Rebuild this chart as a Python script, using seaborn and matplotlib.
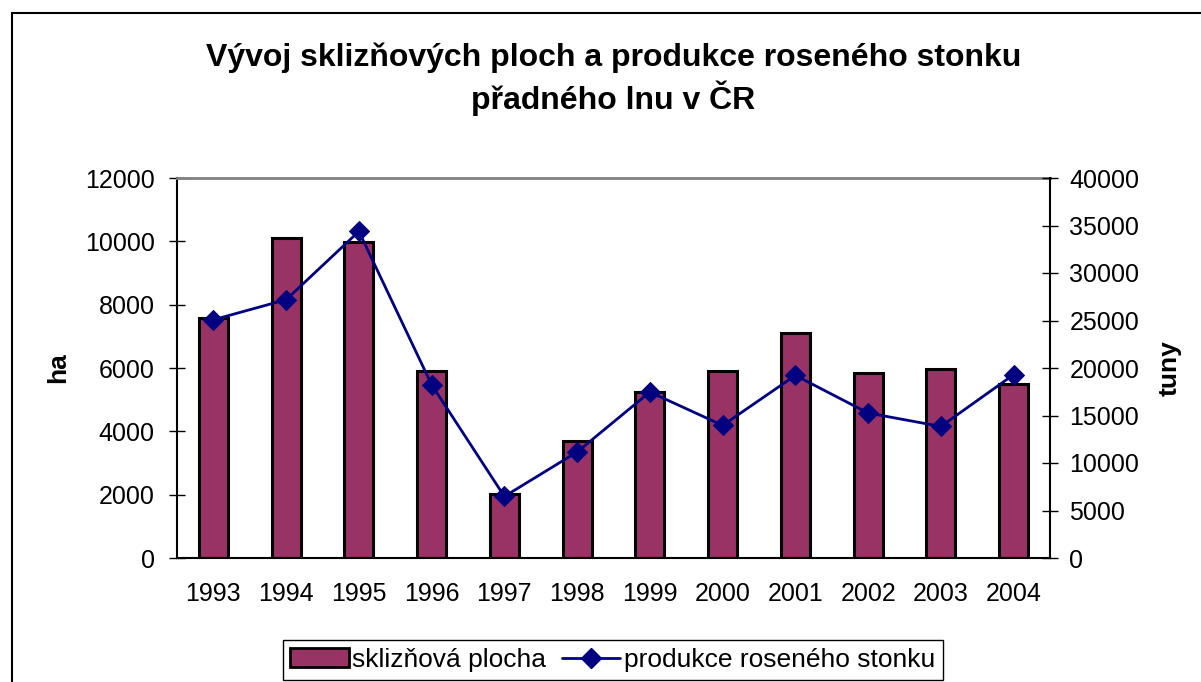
import numpy as np
import pandas as pd
import matplotlib.pyplot as plt
import seaborn as sns
from matplotlib.lines import Line2D
from matplotlib.patches import Patch, Rectangle

# Data
years = ['1993', '1994', '1995', '1996', '1997', '1998',
         '1999', '2000', '2001', '2002', '2003', '2004']
plocha_ha = [7580, 10120, 9980, 5900, 2020, 3710, 5240, 5900, 7120, 5840, 5960, 5490]
produkce_t = [25080, 27190, 34380, 18240, 6480, 11160, 17470, 13960, 19220, 15260, 13850, 19300]

bar_color = '#993366'
line_color = '#000080'

sns.set_style('white')
plt.rcParams['font.family'] = ['Liberation Sans', 'DejaVu Sans']
plt.rcParams['text.color'] = 'black'
plt.rcParams['axes.labelcolor'] = 'black'
plt.rcParams['xtick.color'] = 'black'
plt.rcParams['ytick.color'] = 'black'

df = pd.DataFrame({'rok': years, 'plocha': plocha_ha, 'produkce': produkce_t})
df['pos'] = np.arange(len(df))

W, H = 1201, 682
fig = plt.figure(figsize=(W / 100, H / 100), dpi=100)
ax = fig.add_axes([177 / W, 1 - 558 / H, (1050 - 177) / W, (558 - 178) / H])

# bars - harvested area (left axis)
sns.barplot(data=df, x='rok', y='plocha', color=bar_color, saturation=1,
            width=0.4, edgecolor='black', linewidth=2.2, ax=ax)

# line - production (right axis)
ax2 = ax.twinx()
sns.lineplot(data=df, x='pos', y='produkce', color=line_color, marker='D',
             markersize=10, markeredgecolor=line_color, linewidth=2,
             legend=False, ax=ax2)

ax.set_xlim(-0.5, len(years) - 0.5)
ax.set_ylim(0, 12000)
ax.set_yticks(range(0, 12001, 2000))
ax2.set_ylim(0, 40000)
ax2.set_yticks(range(0, 40001, 5000))

# x ticks sit between categories like in Excel
ax.set_xticks(range(len(years)))
ax.set_xticklabels(years)
ax.set_xticks(np.arange(-0.5, len(years), 1), minor=True)
ax.tick_params(axis='x', which='major', length=0, labelsize=18, pad=17)
ax.tick_params(axis='x', which='minor', direction='inout', length=12, width=1, color='black')
ax.tick_params(axis='y', direction='inout', length=12, width=1, color='black',
               labelsize=18, left=True, pad=10)
ax2.tick_params(axis='y', direction='inout', length=12, width=1, color='black',
                labelsize=18, right=True, pad=8)

ax.set_xlabel('')
ax2.set_xlabel('')
ax.set_ylabel('ha', fontsize=19, fontweight='bold')
ax.yaxis.set_label_coords((70 - 177) / 873, 0.5)
ax2.set_ylabel('tuny', fontsize=19, fontweight='bold')
ax2.yaxis.set_label_coords((1158 - 177) / 873, 0.5)

for s in ['left', 'bottom']:
    ax.spines[s].set_color('black')
    ax.spines[s].set_linewidth(1.5)
ax.spines['right'].set_visible(False)
ax.spines['top'].set_color('#808080')
ax.spines['top'].set_linewidth(2)
ax2.spines['right'].set_color('black')
ax2.spines['right'].set_linewidth(1.5)
for s in ['left', 'bottom', 'top']:
    ax2.spines[s].set_visible(False)

ax.set_title('Vývoj sklizňových ploch a produkce roseného stonku\npřadného lnu v ČR',
             fontsize=23, fontweight='bold', linespacing=1.25, pad=50)

handles = [Patch(facecolor=bar_color, edgecolor='black', linewidth=2),
           Line2D([], [], color=line_color, marker='D', markersize=10, linewidth=2)]
labels = ['sklizňová plocha', 'produkce roseného stonku']
leg = fig.legend(handles, labels, loc='upper center', bbox_to_anchor=(613 / W, 1 - 640 / H),
                 ncol=2, frameon=True, fancybox=False, edgecolor='black', framealpha=1,
                 borderaxespad=0, fontsize=19, handlelength=2.2, handletextpad=0.15,
                 columnspacing=0.6, borderpad=0.3)
leg.get_frame().set_linewidth(1)

# outer chart border (right/bottom fall outside the picture)
fig.add_artist(Rectangle((11.5 / W, -0.1), 1.2, 1 - 13 / H + 0.1, transform=fig.transFigure,
                         fill=False, edgecolor='black', linewidth=1.5))

fig.savefig('out.png', dpi=100)
